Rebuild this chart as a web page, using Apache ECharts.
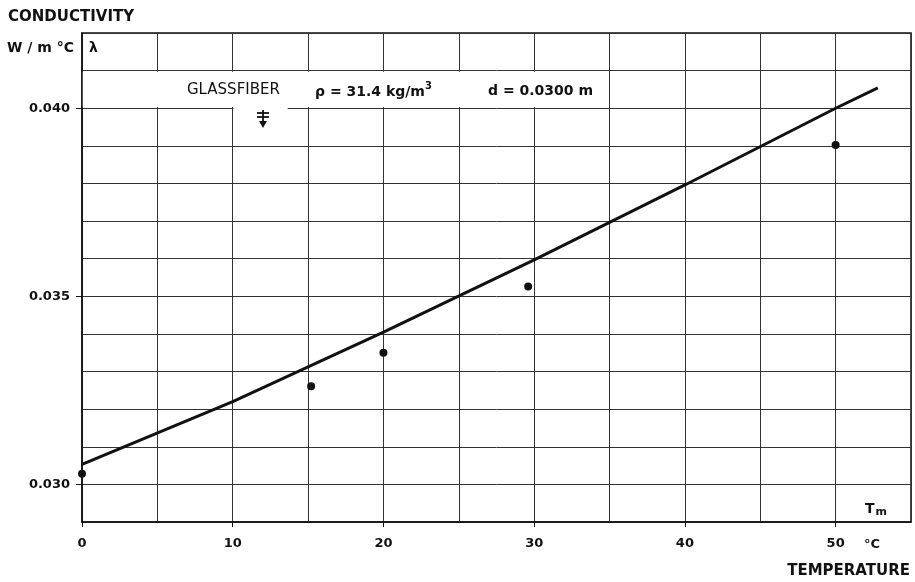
<!DOCTYPE html>
<html>
<head>
<meta charset="utf-8">
<script src="https://cdn.jsdelivr.net/npm/echarts@6/dist/echarts.min.js"></script>
<style>
  html, body { margin: 0; background: #fff; }
  #chart { width: 915px; height: 582px; }
</style>
</head>
<body>
<div id="chart"></div>
<script>
// measured points (mean temperature, conductivity)
const measuredT = [0, 15.2, 20, 29.6, 50];
const measuredLambda = [0.03028, 0.03261, 0.0335, 0.03526, 0.03902];
const fitT = [0, 10, 20, 30, 40, 50, 52.8];
const fitLambda = [0.03053, 0.0322, 0.03405, 0.03597, 0.03796, 0.0400, 0.04054];
// labelled ticks
const xLabelValues = [0, 10, 20, 30, 40, 50];
const yLabelValues = [0.030, 0.035, 0.040];

const FONT = "DejaVu Sans";
const ink = "#111";

const chart = echarts.init(document.getElementById("chart"));

const labelStyle = {
  color: ink,
  fontFamily: FONT,
  fontWeight: "bold",
  fontSize: 13,
};

// axis 0 draws the grid, axis 1 the labels and ticks
const xRange = { type: "value", min: 0, max: 55, interval: 5 };
const yRange = { type: "value", min: 0.029, max: 0.042, interval: 0.001 };

const option = {
  backgroundColor: "#fff",
  animation: false,
  grid: {
    left: 82,
    right: 4,
    top: 33,
    bottom: 60,
    show: true,
    borderColor: ink,
    borderWidth: 1.5,
  },
  xAxis: [
    {
      ...xRange,
      axisLine: { lineStyle: { color: ink, width: 1.5 } },
      axisTick: { show: false },
      axisLabel: { show: false },
      splitLine: { show: true, lineStyle: { color: "#333", width: 1 } },
    },
    {
      ...xRange,
      position: "bottom",
      axisLine: { show: false },
      axisTick: { show: true, length: 5, customValues: xLabelValues, lineStyle: { color: ink } },
      axisLabel: { ...labelStyle, customValues: xLabelValues, margin: 15 },
      splitLine: { show: false },
    },
  ],
  yAxis: [
    {
      ...yRange,
      axisLine: { show: true, lineStyle: { color: ink, width: 1.5 } },
      axisTick: { show: false },
      axisLabel: { show: false },
      splitLine: { show: true, lineStyle: { color: "#333", width: 1 } },
    },
    {
      ...yRange,
      position: "left",
      axisLine: { show: false },
      axisTick: { show: true, length: 6, customValues: yLabelValues, lineStyle: { color: ink } },
      axisLabel: { ...labelStyle, customValues: yLabelValues, margin: 12, formatter: v => v.toFixed(3) },
      splitLine: { show: false },
    },
  ],
  series: [
    {
      name: "fit",
      type: "line",
      data: fitT.map((t, i) => [t, fitLambda[i]]),
      showSymbol: false,
      lineStyle: { color: ink, width: 3 },
      z: 3,
      markArea: {
        silent: true,
        itemStyle: { color: "#fff" },
        data: [
          [{ coord: [0.05, 0.04003] }, { coord: [34.3, 0.04097] }],
          [{ coord: [10.04, 0.0395] }, { coord: [13.65, 0.0401] }],
        ],
      },
    },
    {
      name: "measured",
      type: "scatter",
      data: measuredT.map((t, i) => [t, measuredLambda[i]]),
      symbol: "circle",
      symbolSize: 8,
      itemStyle: { color: ink, opacity: 1 },
      z: 4,
    },
  ],
  graphic: [
    {
      type: "text", left: 8, top: 10,
      style: { text: "CONDUCTIVITY", font: `bold 15px "${FONT}"`, fill: ink },
    },
    {
      type: "text", right: 915 - 74, top: 41,
      style: { text: "W / m °C", font: `bold 14px "${FONT}"`, fill: ink, textAlign: "right" },
    },
    {
      type: "text", left: 89, top: 41,
      style: { text: "λ", font: `bold 14px "${FONT}"`, fill: ink },
    },
    {
      type: "text", left: 187, top: 83, z: 10,
      style: { text: "GLASSFIBER", font: `15px "${FONT}"`, fill: ink },
    },
    {
      type: "text", left: 315, top: 81, z: 10,
      style: {
        text: "{a|ρ = 31.4 kg/m}{s|3}",
        rich: {
          a: { font: `bold 14px "${FONT}"`, fill: ink, padding: [4, 0, 0, 0] },
          s: { font: `bold 10px "${FONT}"`, fill: ink, verticalAlign: "top" },
        },
      },
    },
    {
      type: "text", left: 488, top: 84, z: 10,
      style: { text: "d = 0.0300 m", font: `bold 14px "${FONT}"`, fill: ink },
    },
    // heat flow symbol under GLASSFIBER
    { type: "line", z: 10, shape: { x1: 257, y1: 113, x2: 269, y2: 113 }, style: { stroke: ink, lineWidth: 1.8 } },
    { type: "line", z: 10, shape: { x1: 257, y1: 117, x2: 269, y2: 117 }, style: { stroke: ink, lineWidth: 1.8 } },
    { type: "line", z: 10, shape: { x1: 263, y1: 110, x2: 263, y2: 124 }, style: { stroke: ink, lineWidth: 1.8 } },
    { type: "polygon", z: 10, shape: { points: [[259, 121], [267, 121], [263, 128]] }, style: { fill: ink } },
    {
      type: "text", left: 865, top: 502, z: 10,
      style: {
        text: "{t|T}{m|m}",
        rich: {
          t: { font: `bold 14px "${FONT}"`, fill: ink },
          m: { font: `bold 11px "${FONT}"`, fill: ink, padding: [6, 0, 0, 1] },
        },
      },
    },
    {
      type: "text", left: 864, top: 538,
      style: { text: "°C", font: `bold 13px "${FONT}"`, fill: ink },
    },
    {
      type: "text", right: 5, top: 564,
      style: { text: "TEMPERATURE", font: `bold 15px "${FONT}"`, fill: ink, textAlign: "right" },
    },
  ],
};

chart.setOption(option);

window.addEventListener("resize", () => {
  chart.resize();
});
</script>
</body>
</html>
